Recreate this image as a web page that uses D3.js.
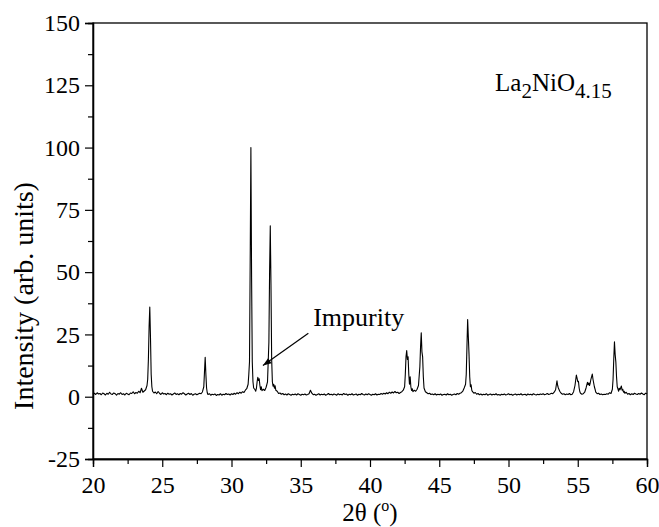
<!DOCTYPE html>
<html>
<head>
<meta charset="utf-8">
<script src="https://cdn.jsdelivr.net/npm/d3@7"></script>
<style>
  body { margin: 0; background: #fff; }
  svg text { font-family: "Liberation Serif", "Times New Roman", Times, "DejaVu Serif", serif; fill: #000; }
</style>
</head>
<body>
<svg id="xrd" width="659" height="527"></svg>
<script>
// 2theta (deg), intensity (arb. units)
var scan = [
  [20.0,1.0],[20.1,1.4],[20.2,0.9],[20.3,1.6],[20.4,1.1],[20.5,1.3],[20.6,0.8],[20.7,1.5],[20.8,1.2],[20.9,0.7],
  [21.0,1.4],[21.1,1.0],[21.2,1.8],[21.3,1.1],[21.4,0.9],[21.5,1.5],[21.6,1.2],[21.7,0.6],[21.8,1.3],[21.9,1.0],
  [22.0,1.6],[22.1,0.9],[22.2,1.2],[22.3,0.7],[22.4,1.4],[22.5,1.1],[22.6,0.8],[22.7,1.5],[22.8,1.3],[22.9,2.0],
  [23.0,1.2],[23.1,1.7],[23.2,1.4],[23.3,2.2],[23.4,1.6],[23.5,3.4],[23.6,1.8],[23.7,2.3],[23.8,2.8],[23.9,4.5],
  [23.95,7],[24.0,15],[24.05,28],[24.1,36],[24.15,24],[24.2,9],[24.25,4],[24.3,2.2],[24.4,1.5],[24.5,1.9],
  [24.6,1.2],[24.7,2.1],[24.8,1.4],[24.9,0.9],[25.0,1.6],[25.1,1.1],[25.2,1.3],[25.3,0.8],[25.4,1.4],[25.5,1.0],
  [25.6,1.2],[25.7,0.7],[25.8,1.1],[25.9,1.5],[26.0,0.9],[26.1,1.2],[26.2,0.8],[26.3,1.3],[26.4,1.0],[26.5,1.6],
  [26.6,1.2],[26.7,0.7],[26.8,1.1],[26.9,1.4],[27.0,0.9],[27.1,1.3],[27.2,0.6],[27.3,1.0],[27.4,1.2],[27.5,0.8],
  [27.6,1.1],[27.7,1.4],[27.8,1.2],[27.9,1.9],[28.0,4],[28.05,10],[28.1,15.8],[28.15,9],[28.2,3.5],[28.25,1.6],
  [28.3,0.9],[28.4,1.2],[28.5,0.6],[28.6,1.0],[28.7,0.8],[28.8,1.1],[28.9,0.5],[29.0,0.9],[29.1,0.7],[29.2,1.2],
  [29.3,0.6],[29.4,1.0],[29.5,0.8],[29.6,1.3],[29.7,0.9],[29.8,1.1],[29.9,0.7],[30.0,1.2],[30.1,0.9],[30.2,1.4],
  [30.3,1.0],[30.4,1.6],[30.5,1.2],[30.6,1.8],[30.7,1.4],[30.8,2.0],[30.9,1.7],[31.0,2.6],[31.1,3.2],[31.2,5],
  [31.25,9],[31.3,14],[31.35,55],[31.4,100],[31.45,48],[31.5,14],[31.55,6],[31.6,3.5],[31.7,2.8],[31.75,2.2],
  [31.8,3.4],[31.85,6],[31.9,7.8],[31.95,6.5],[32.0,7.2],[32.05,4.5],[32.1,2.8],[32.15,4],[32.2,2.4],[32.3,3.0],
  [32.4,2.5],[32.5,3.8],[32.6,6],[32.7,22],[32.75,50],[32.8,68.6],[32.85,45],[32.9,15],[32.95,6],[33.0,4.2],
  [33.05,5],[33.1,3.4],[33.15,4.4],[33.2,2.6],[33.3,2.2],[33.4,1.3],[33.5,1.5],[33.6,1.0],[33.7,1.3],[33.8,0.8],
  [33.9,1.1],[34.0,0.7],[34.1,1.2],[34.2,0.9],[34.3,0.6],[34.4,1.0],[34.5,0.8],[34.6,1.1],[34.7,0.7],[34.8,1.2],
  [34.9,0.9],[35.0,0.6],[35.1,1.0],[35.2,0.8],[35.3,1.1],[35.4,0.7],[35.5,0.9],[35.6,1.2],[35.7,2.6],[35.8,1.4],
  [35.9,0.8],[36.0,1.0],[36.1,0.6],[36.2,0.9],[36.3,1.2],[36.4,0.7],[36.5,1.0],[36.6,0.8],[36.7,1.1],[36.8,0.6],
  [36.9,0.9],[37.0,1.3],[37.1,0.8],[37.2,1.0],[37.3,0.7],[37.4,1.1],[37.5,0.9],[37.6,0.6],[37.7,1.2],[37.8,0.8],
  [37.9,1.0],[38.0,0.7],[38.1,1.3],[38.2,0.9],[38.3,1.1],[38.4,0.6],[38.5,1.0],[38.6,0.8],[38.7,1.2],[38.8,0.7],
  [38.9,0.9],[39.0,1.1],[39.1,0.6],[39.2,1.0],[39.3,0.8],[39.4,1.3],[39.5,0.9],[39.6,0.7],[39.7,1.1],[39.8,0.8],
  [39.9,1.2],[40.0,0.9],[40.1,0.6],[40.2,1.0],[40.3,0.8],[40.4,1.2],[40.5,0.7],[40.6,1.0],[40.7,0.9],[40.8,1.3],
  [40.9,1.0],[41.0,1.4],[41.1,1.1],[41.2,1.6],[41.3,1.2],[41.4,1.8],[41.5,1.4],[41.6,1.9],[41.7,1.5],[41.8,2.1],
  [41.9,1.6],[42.0,1.8],[42.1,1.3],[42.2,1.7],[42.3,2.0],[42.4,2.6],[42.5,4],[42.55,9],[42.6,16],[42.65,18.5],
  [42.7,15],[42.75,16],[42.8,9],[42.85,5],[42.9,8],[42.95,4],[43.0,2.5],[43.05,3.2],[43.1,2.0],[43.2,2.6],
  [43.3,2.2],[43.4,3.0],[43.5,4.5],[43.6,12],[43.65,20],[43.7,25.7],[43.75,18],[43.8,16],[43.85,8],[43.9,3.5],
  [44.0,2.0],[44.1,1.6],[44.2,1.2],[44.3,1.4],[44.4,0.9],[44.5,1.1],[44.6,0.8],[44.7,1.2],[44.8,0.7],[44.9,1.0],
  [45.0,0.8],[45.1,1.1],[45.2,0.6],[45.3,0.9],[45.4,1.0],[45.5,0.7],[45.6,1.2],[45.7,0.8],[45.8,1.0],[45.9,0.6],
  [46.0,0.9],[46.1,1.1],[46.2,0.8],[46.3,1.3],[46.4,1.0],[46.5,1.4],[46.6,1.6],[46.7,2.2],[46.8,3.5],[46.9,5],
  [46.95,9],[47.0,20],[47.05,31],[47.1,24],[47.15,17],[47.2,8],[47.25,4],[47.3,4.8],[47.35,2.6],[47.4,2.0],
  [47.5,1.4],[47.6,1.7],[47.7,1.0],[47.8,1.3],[47.9,0.8],[48.0,1.1],[48.1,0.7],[48.2,1.0],[48.3,0.8],[48.4,1.2],
  [48.5,0.6],[48.6,0.9],[48.7,1.1],[48.8,0.7],[48.9,1.0],[49.0,0.8],[49.1,1.2],[49.2,0.7],[49.3,0.9],[49.4,0.6],
  [49.5,1.0],[49.6,0.8],[49.7,1.1],[49.8,0.7],[49.9,0.9],[50.0,1.2],[50.1,0.8],[50.2,1.0],[50.3,0.6],[50.4,0.9],
  [50.5,1.1],[50.6,0.7],[50.7,1.0],[50.8,0.8],[50.9,1.2],[51.0,0.7],[51.1,0.9],[51.2,1.0],[51.3,0.6],[51.4,1.1],
  [51.5,0.8],[51.6,1.0],[51.7,0.7],[51.8,1.2],[51.9,0.9],[52.0,0.7],[52.1,1.0],[52.2,0.8],[52.3,1.1],[52.4,0.9],
  [52.5,1.2],[52.6,0.8],[52.7,1.0],[52.8,1.3],[52.9,0.9],[53.0,1.1],[53.1,1.4],[53.2,1.2],[53.3,1.8],[53.4,2.8],
  [53.5,6.4],[53.55,4.5],[53.6,3.5],[53.7,2.2],[53.8,1.4],[53.9,1.0],[54.0,1.2],[54.1,0.8],[54.2,1.1],[54.3,0.9],
  [54.4,1.3],[54.5,0.8],[54.6,1.0],[54.7,2.0],[54.8,4.5],[54.9,8.7],[54.95,7.5],[55.0,6],[55.05,6.2],[55.1,3.5],
  [55.15,2.0],[55.2,1.4],[55.3,1.0],[55.4,1.2],[55.5,1.8],[55.6,3.5],[55.7,5.8],[55.75,4.8],[55.8,5.5],[55.85,4.5],
  [55.9,5.5],[55.95,7],[56.05,9.1],[56.1,7],[56.15,5.5],[56.2,4],[56.25,3.0],[56.3,1.8],[56.4,1.2],[56.5,1.4],
  [56.6,0.9],[56.7,1.1],[56.8,0.8],[56.9,1.0],[57.0,0.9],[57.1,1.2],[57.2,1.0],[57.3,1.6],[57.4,1.3],[57.5,3],
  [57.55,7],[57.6,15],[57.65,22],[57.7,17],[57.75,14],[57.8,8],[57.85,4],[57.9,3.2],[57.95,2.2],[58.0,3.4],
  [58.05,2.8],[58.15,4.3],[58.2,2.6],[58.25,3.0],[58.3,1.8],[58.35,2.2],[58.4,1.4],[58.5,1.8],[58.6,1.0],[58.7,1.3],
  [58.8,0.8],[58.9,1.2],[59.0,0.9],[59.1,1.4],[59.2,1.1],[59.3,0.9],[59.4,1.3],[59.5,1.0],[59.6,1.5],[59.7,1.1],
  [59.8,0.8],[59.9,1.4],[60.0,1.2]
];

var xTicks = [20, 25, 30, 35, 40, 45, 50, 55, 60];
var xMinor = [22.5, 27.5, 32.5, 37.5, 42.5, 47.5, 52.5, 57.5];
var yTicks = [-25, 0, 25, 50, 75, 100, 125, 150];
var yMinor = [-12.5, 12.5, 37.5, 62.5, 87.5, 112.5, 137.5];

// annotation: label anchor and the point the arrow hits (data units)
var impurityLabel = {text: "Impurity", x: 35.9, y: 28.4};
var impurityArrow = {from: [35.55, 25.5], to: [32.27, 12.5]};

var svg = d3.select("#xrd"),
    margin = {top: 23, right: 12, bottom: 68, left: 93},
    width = +svg.attr("width") - margin.left - margin.right,
    height = +svg.attr("height") - margin.top - margin.bottom;

var g = svg.append("g")
    .attr("transform", "translate(" + margin.left + "," + margin.top + ")");

var x = d3.scaleLinear().domain([20, 60]).range([0, width]);
var y = d3.scaleLinear().domain([-25, 150]).range([height, 0]);

// frame
g.append("rect")
    .attr("width", width)
    .attr("height", height)
    .attr("fill", "none")
    .attr("stroke", "#000")
    .attr("stroke-width", 1.3);

// bottom axis
g.append("g")
    .attr("transform", "translate(0," + height + ")")
    .call(d3.axisBottom(x).tickValues(xTicks).tickSize(8).tickPadding(9).tickFormat(d => String(d)));
g.append("g")
    .attr("transform", "translate(0," + height + ")")
    .call(d3.axisBottom(x).tickValues(xMinor).tickSize(5).tickFormat(""));

// left axis
g.append("g")
    .call(d3.axisLeft(y).tickValues(yTicks).tickSize(8).tickPadding(5).tickFormat(d => String(d)));
g.append("g")
    .call(d3.axisLeft(y).tickValues(yMinor).tickSize(5).tickFormat(""));

g.selectAll(".domain").attr("stroke", "#000").attr("stroke-width", 1.3);
g.selectAll(".tick line").attr("stroke", "#000").attr("stroke-width", 1.2);
g.selectAll(".tick text")
    .attr("font-family", null)
    .style("font-size", "24px")
    .attr("fill", "#000");

// pattern
var line = d3.line()
    .x(d => x(d[0]))
    .y(d => y(d[1]));

g.append("path")
    .datum(scan)
    .attr("fill", "none")
    .attr("stroke", "#000")
    .attr("stroke-width", 1.1)
    .attr("stroke-linejoin", "round")
    .attr("d", line);

// axis titles
var xt = svg.append("text")
    .attr("x", margin.left + width / 2)
    .attr("y", 521)
    .style("text-anchor", "middle")
    .style("font-size", "25px");
xt.append("tspan").text("2θ (");
xt.append("tspan").attr("dy", -10).style("font-size", "16px").text("o");
xt.append("tspan").attr("dy", 10).text(")");

svg.append("text")
    .attr("transform", "translate(33,296) rotate(-90)")
    .style("text-anchor", "middle")
    .style("font-size", "28px")
    .text("Intensity (arb. units)");

// compound label
var comp = svg.append("text")
    .attr("x", 495)
    .attr("y", 91)
    .style("font-size", "25px");
comp.append("tspan").text("La");
comp.append("tspan").attr("dy", 7).style("font-size", "21px").text("2");
comp.append("tspan").attr("dy", -7).text("NiO");
comp.append("tspan").attr("dy", 7).style("font-size", "21px").text("4.15");

// impurity annotation
g.append("text")
    .attr("x", x(impurityLabel.x))
    .attr("y", y(impurityLabel.y))
    .style("font-size", "26px")
    .text(impurityLabel.text);

g.append("line")
    .attr("x1", x(impurityArrow.from[0]))
    .attr("y1", y(impurityArrow.from[1]))
    .attr("x2", x(impurityArrow.to[0]))
    .attr("y2", y(impurityArrow.to[1]))
    .attr("stroke", "#000")
    .attr("stroke-width", 1.2);

// arrow head
var ax = x(impurityArrow.to[0]), ay = y(impurityArrow.to[1]);
var ang = Math.atan2(y(impurityArrow.from[1]) - ay, x(impurityArrow.from[0]) - ax);
var hl = 9, hw = 0.35;
g.append("path")
    .attr("d", "M" + ax + "," + ay +
        "L" + (ax + hl * Math.cos(ang - hw)) + "," + (ay + hl * Math.sin(ang - hw)) +
        "L" + (ax + hl * Math.cos(ang + hw)) + "," + (ay + hl * Math.sin(ang + hw)) + "Z")
    .attr("fill", "#000");
</script>
</body>
</html>
